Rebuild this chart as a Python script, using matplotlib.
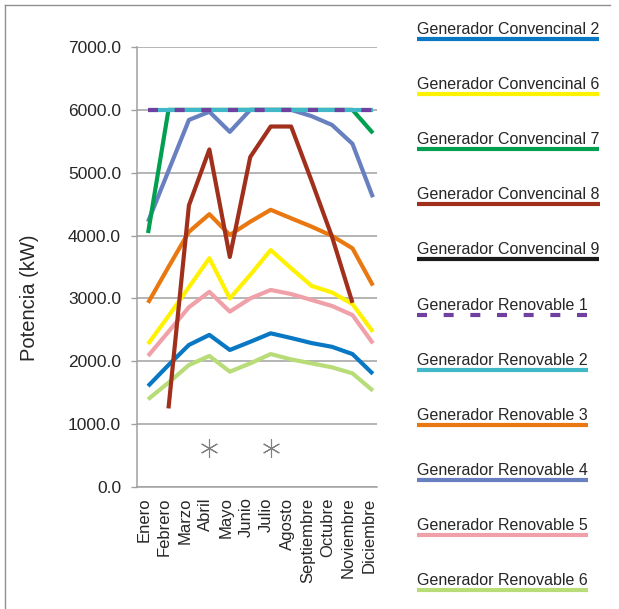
import matplotlib
matplotlib.use("Agg")
import matplotlib.pyplot as plt
import matplotlib.transforms as mtransforms
from matplotlib.lines import Line2D
import numpy as np

plt.rcParams['font.family'] = ['Liberation Sans', 'DejaVu Sans']

meses = ['Enero', 'Febrero', 'Marzo', 'Abril', 'Mayo', 'Junio', 'Julio',
         'Agosto', 'Septiembre', 'Octubre', 'Noviembre', 'Diciembre']

nan = np.nan
conv2 = [1605, 1940, 2260, 2420, 2180, 2310, 2445, 2370, 2290, 2230, 2115, 1800]
conv6 = [2275, 2720, 3180, 3640, 3000, 3375, 3770, 3480, 3200, 3095, 2910, 2470]
conv7 = [4040, 6000, 6000, 6000, 6000, 6000, 6000, 6000, 6000, 6000, 6000, 5630]
conv8 = [nan, 1250, 4480, 5370, 3660, 5250, 5735, 5735, 4870, 3980, 2930, nan]
conv9 = [nan] * 12
ren1 = [6000] * 12
ren2 = [6000] * 12
ren3 = [2930, 3500, 4060, 4340, 4010, 4220, 4410, 4275, 4142, 3995, 3797, 3205]
ren4 = [4220, 5030, 5840, 5970, 5650, 6000, 6000, 6000, 5900, 5760, 5460, 4610]
ren5 = [2085, 2470, 2860, 3105, 2790, 3000, 3135, 3070, 2975, 2880, 2736, 2286]
ren6 = [1395, 1660, 1940, 2085, 1835, 1967, 2115, 2030, 1967, 1904, 1808, 1532]
marcas = [nan, nan, nan, 620, nan, nan, 620, nan, nan, nan, nan, nan]

series = [
    # nombre, valores, color, estilo, zorder
    ('Generador Convencinal 2', conv2, '#0878C4', '-', 4),
    ('Generador Convencinal 6', conv6, '#FFF200', '-', 5),
    ('Generador Convencinal 7', conv7, '#00A050', '-', 8),
    ('Generador Convencinal 8', conv8, '#A0301C', '-', 7),
    ('Generador Convencinal 9', conv9, '#1A1A1A', '-', 7),
    ('Generador Renovable 1', ren1, '#7040A0', (0, (2.4, 4.0)), 10),
    ('Generador Renovable 2', ren2, '#40B8C8', '-', 9),
    ('Generador Renovable 3', ren3, '#E8780F', '-', 6),
    ('Generador Renovable 4', ren4, '#6880C0', '-', 7),
    ('Generador Renovable 5', ren5, '#F0A0A8', '-', 3),
    ('Generador Renovable 6', ren6, '#B8DC78', '-', 2),
]

W, H = 619, 609
fig = plt.figure(figsize=(W / 100, H / 100), dpi=100)
ax = fig.add_axes([137 / W, 1 - 487 / H, 240 / W, 440 / H])

x = np.arange(len(meses))
for nombre, vals, color, ls, z in series:
    ax.plot(x, vals, color=color, lw=3, ls=ls, solid_capstyle='butt',
            dash_capstyle='butt', zorder=z)
ax.plot(x, marcas, ls='none', marker=(6, 2, 0), ms=13, mew=0.8,
        color='#808080', zorder=3)

ax.set_xlim(-0.54, 11.2)
ax.set_ylim(0, 7000)
ax.set_yticks(np.arange(0, 7001, 1000))
ax.yaxis.set_major_formatter(plt.FuncFormatter(lambda v, p: f'{v:.1f}'))
ax.grid(axis='y', color='#A0A0A0', lw=1.1, zorder=0)
ax.set_axisbelow(True)
for s in ['top', 'right']:
    ax.spines[s].set_visible(False)
for s in ['left', 'bottom']:
    ax.spines[s].set_color('#A0A0A0')
    ax.spines[s].set_linewidth(1.1)
ax.tick_params(axis='y', length=4, width=1, color='#A0A0A0', pad=7.5,
               labelsize=12.5, labelcolor='#262626')
ax.set_xticks(x)
ax.set_xticklabels(meses, rotation=90, fontsize=12, color='#262626')
ax.tick_params(axis='x', length=0, pad=7.5)
shift = mtransforms.ScaledTranslation(-4 / 100, 0, fig.dpi_scale_trans)
for lbl in ax.get_xticklabels():
    lbl.set_transform(lbl.get_transform() + shift)

ax.set_ylabel('Potencia (kW)', fontsize=14.5, color='#262626')
ax.yaxis.set_label_coords(-0.41, 0.43)

# leyenda: texto con la línea del color debajo
renderer = fig.canvas.get_renderer()
for i, (nombre, vals, color, ls, z) in enumerate(series):
    ly = 39 + 55.1 * i
    t = fig.text(417 / W, 1 - (ly - 5) / H, nombre, fontsize=11.5,
                 color='#262626', va='baseline', ha='left')
    bb = t.get_window_extent(renderer)
    fig.add_artist(Line2D([bb.x0 / W, bb.x1 / W], [1 - ly / H, 1 - ly / H],
                          transform=fig.transFigure, color=color, lw=3,
                          ls=ls, solid_capstyle='butt', dash_capstyle='butt'))

# marco
fig.add_artist(Line2D([5 / W, 5 / W], [-0.01, 1 - 5 / H], transform=fig.transFigure,
                      color='#909090', lw=1))
fig.add_artist(Line2D([5 / W, 610 / W], [1 - 5 / H, 1 - 5 / H],
                      transform=fig.transFigure, color='#909090', lw=1))

fig.savefig('out.png', dpi=100)
